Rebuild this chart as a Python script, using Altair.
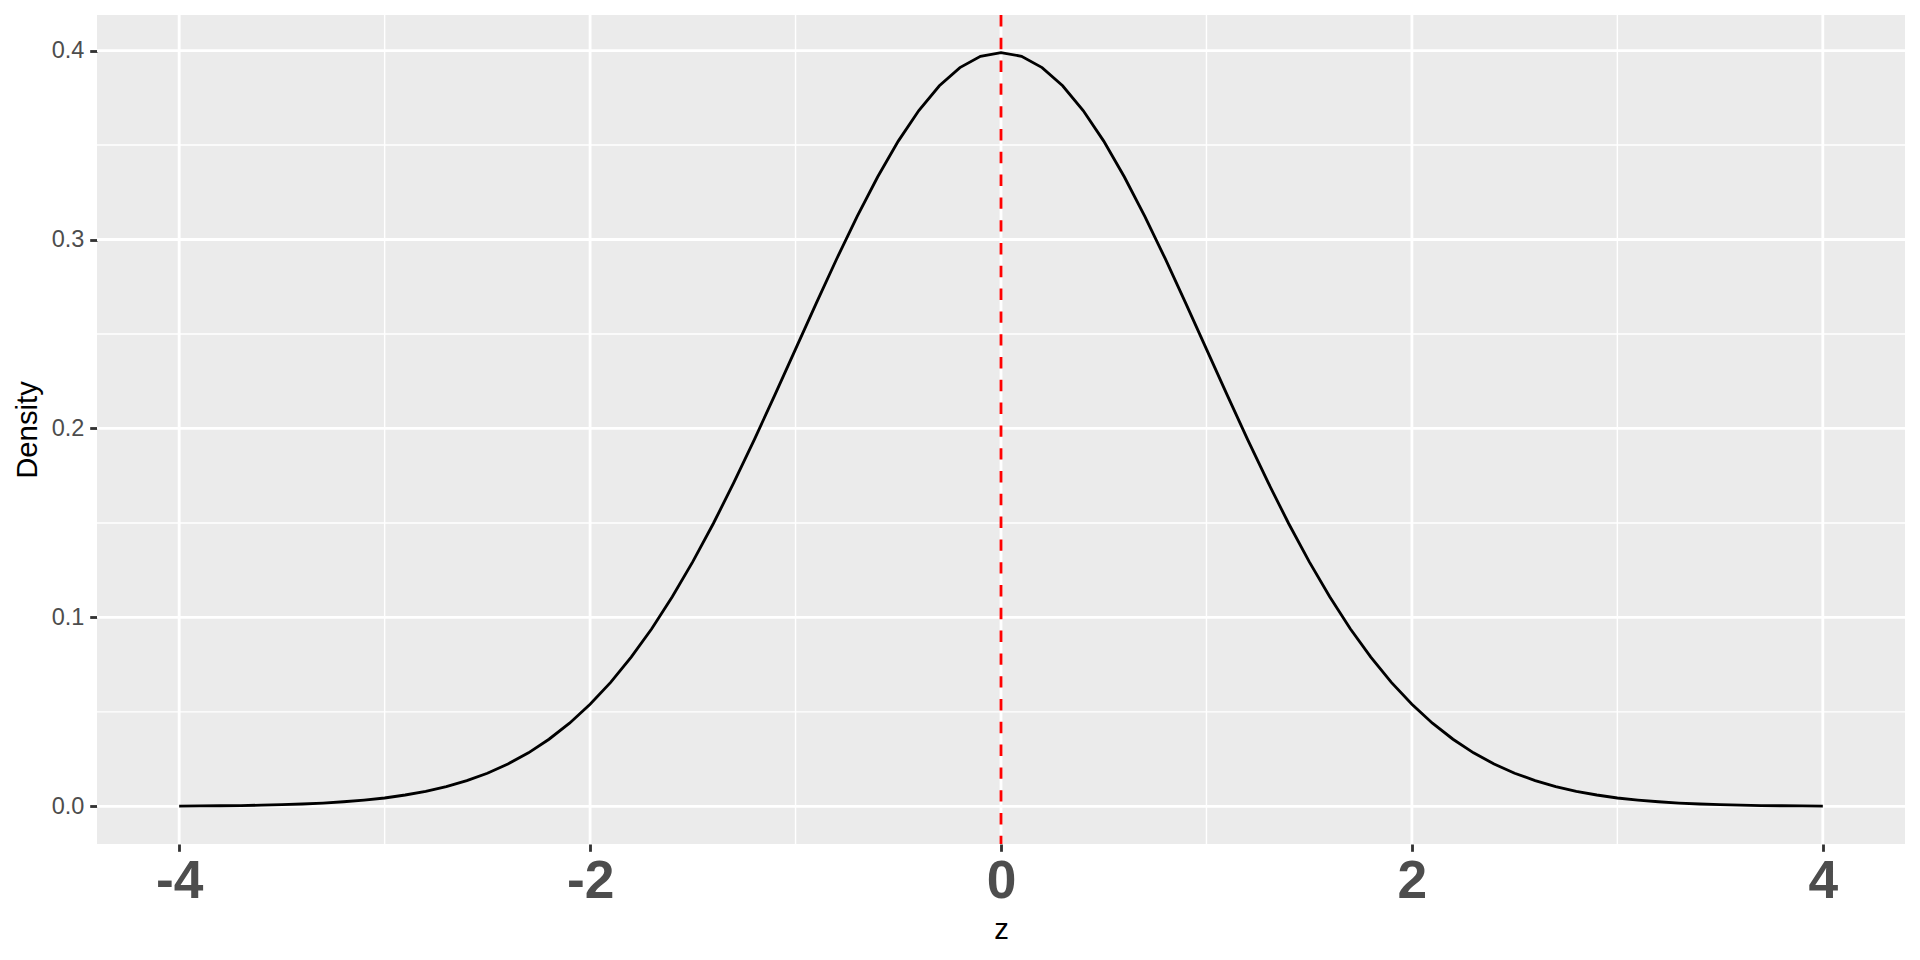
import altair as alt
import pandas as pd

# ---- data ----
z_vals = [-4.0, -3.9, -3.8, -3.7, -3.6, -3.5, -3.4, -3.3, -3.2, -3.1,
          -3.0, -2.9, -2.8, -2.7, -2.6, -2.5, -2.4, -2.3, -2.2, -2.1,
          -2.0, -1.9, -1.8, -1.7, -1.6, -1.5, -1.4, -1.3, -1.2, -1.1,
          -1.0, -0.9, -0.8, -0.7, -0.6, -0.5, -0.4, -0.3, -0.2, -0.1,
          0.0, 0.1, 0.2, 0.3, 0.4, 0.5, 0.6, 0.7, 0.8, 0.9,
          1.0, 1.1, 1.2, 1.3, 1.4, 1.5, 1.6, 1.7, 1.8, 1.9,
          2.0, 2.1, 2.2, 2.3, 2.4, 2.5, 2.6, 2.7, 2.8, 2.9,
          3.0, 3.1, 3.2, 3.3, 3.4, 3.5, 3.6, 3.7, 3.8, 3.9, 4.0]
density_vals = [0.0001, 0.0002, 0.0003, 0.0004, 0.0006, 0.0009, 0.0012, 0.0017, 0.0024, 0.0033,
                0.0044, 0.0060, 0.0079, 0.0104, 0.0136, 0.0175, 0.0224, 0.0283, 0.0355, 0.0440,
                0.0540, 0.0656, 0.0790, 0.0940, 0.1109, 0.1295, 0.1497, 0.1714, 0.1942, 0.2179,
                0.2420, 0.2661, 0.2897, 0.3123, 0.3332, 0.3521, 0.3683, 0.3814, 0.3910, 0.3970,
                0.3989, 0.3970, 0.3910, 0.3814, 0.3683, 0.3521, 0.3332, 0.3123, 0.2897, 0.2661,
                0.2420, 0.2179, 0.1942, 0.1714, 0.1497, 0.1295, 0.1109, 0.0940, 0.0790, 0.0656,
                0.0540, 0.0440, 0.0355, 0.0283, 0.0224, 0.0175, 0.0136, 0.0104, 0.0079, 0.0060,
                0.0044, 0.0033, 0.0024, 0.0017, 0.0012, 0.0009, 0.0006, 0.0004, 0.0003, 0.0002, 0.0001]
vline_at = [0.0]

x_major = [-4, -2, 0, 2, 4]
x_minor = [-3, -1, 1, 3]
y_major = [0.0, 0.1, 0.2, 0.3, 0.4]
y_minor = [0.05, 0.15, 0.25, 0.35]

x_domain = [-4.4, 4.4]
y_domain = [-0.01995, 0.41884]

FONT = "Liberation Sans"

curve_df = pd.DataFrame({"z": z_vals, "density": density_vals})

xs = alt.Scale(domain=x_domain, nice=False, zero=False)
ys = alt.Scale(domain=y_domain, nice=False, zero=False)

grid_x_minor = alt.Chart(pd.DataFrame({"v": x_minor})).mark_rule(
    color="white", strokeWidth=1.42).encode(x=alt.X("v:Q", scale=xs))
grid_y_minor = alt.Chart(pd.DataFrame({"v": y_minor})).mark_rule(
    color="white", strokeWidth=1.42).encode(y=alt.Y("v:Q", scale=ys))
grid_x_major = alt.Chart(pd.DataFrame({"v": x_major})).mark_rule(
    color="white", strokeWidth=2.84).encode(x=alt.X("v:Q", scale=xs))
grid_y_major = alt.Chart(pd.DataFrame({"v": y_major})).mark_rule(
    color="white", strokeWidth=2.84).encode(y=alt.Y("v:Q", scale=ys))

curve = alt.Chart(curve_df).mark_line(color="black", strokeWidth=2.84).encode(
    x=alt.X("z:Q", scale=xs, title="z",
            axis=alt.Axis(values=x_major, grid=False, domain=False,
                          labelExpr="toString(datum.value)",
                          labelFont=FONT, labelFontSize=53.3, labelFontWeight="bold",
                          labelColor="#4D4D4D", labelBaseline="alphabetic",
                          labelPadding=45.7, tickSize=7.3, tickWidth=2.84,
                          tickColor="#333333",
                          titleFont=FONT, titleFontSize=29.3, titleFontWeight="normal",
                          titleColor="black", titleBaseline="alphabetic",
                          titleAlign="center", titleX=904, titleY=94)),
    y=alt.Y("density:Q", scale=ys, title="Density",
            axis=alt.Axis(values=y_major, grid=False, domain=False,
                          labelExpr="format(datum.value, '.1f')",
                          labelFont=FONT, labelFontSize=23.5, labelColor="#4D4D4D",
                          labelPadding=5.9, tickSize=7.3, tickWidth=2.84,
                          tickColor="#333333",
                          titleFont=FONT, titleFontSize=29.3, titleFontWeight="normal",
                          titleColor="black", titleBaseline="alphabetic",
                          titleAlign="center", titleAngle=270,
                          titleX=-61, titleY=414.5)),
)

vline = alt.Chart(pd.DataFrame({"v": vline_at})).mark_rule(
    color="#FF0000", strokeWidth=2.84, strokeDash=[11.4, 11.4]).encode(
    x=alt.X("v:Q", scale=xs))

chart = alt.layer(
    grid_y_minor, grid_x_minor, grid_y_major, grid_x_major, curve, vline
).properties(
    width=1808, height=829,
    autosize=alt.AutoSizeParams(type="none"),
    padding={"left": 89, "top": 7, "right": 7, "bottom": 100},
    background="white",
).configure_view(fill="#EBEBEB", stroke=None)

chart.save("out.html", embed_options={"renderer": "svg", "actions": False})
